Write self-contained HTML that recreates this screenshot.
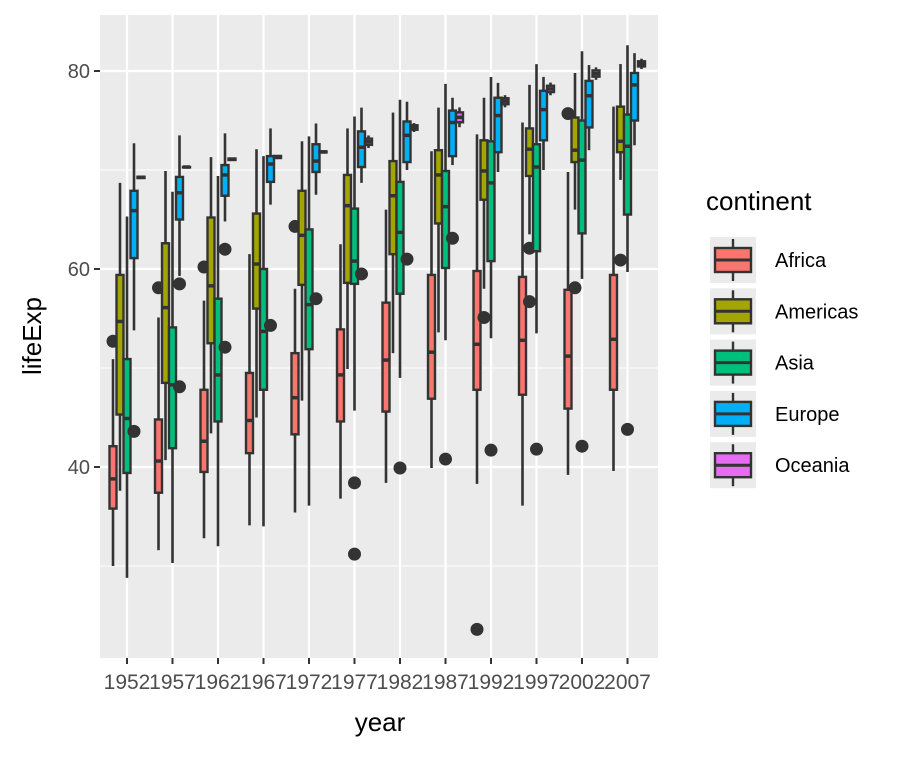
<!DOCTYPE html>
<html><head><meta charset="utf-8"><style>
body{margin:0;background:#fff}
svg{font-family:"Liberation Sans",sans-serif}
</style></head><body>
<svg id="chart" width="918" height="756">
<rect x="100" y="15" width="558" height="643" fill="#ebebeb"/>
<g id="grid"></g><g id="marks"></g><g id="axes"></g>
<text x="380" y="731" font-size="26" text-anchor="middle" fill="#000">year</text>
<text transform="translate(41,336) rotate(-90)" font-size="26" text-anchor="middle" fill="#000">lifeExp</text>
<text x="706" y="210" font-size="26" fill="#000">continent</text>
<g id="legend"></g>
</svg>
<script>
const years=[1952,1957,1962,1967,1972,1977,1982,1987,1992,1997,2002,2007];
const continents=["Africa","Americas","Asia","Europe","Oceania"];
const colors=["#F8766D","#A3A500","#00BF7D","#00B0F6","#E76BF3"];
const yTicks=[40,60,80];
const yMinor=[30,50,70];
// [lo,q1,med,q3,hi] per year
const africa=[[30.0,35.8,38.8,42.1,50.9],[31.6,37.4,40.6,44.8,55.1],[32.8,39.5,42.6,47.8,56.8],[34.1,41.4,44.7,49.5,61.5],[35.4,43.3,47.0,51.5,58.0],[36.8,44.6,49.3,53.9,62.5],[38.4,45.6,50.8,56.6,66.0],[39.9,46.9,51.6,59.4,71.9],[38.3,47.8,52.4,59.8,73.6],[36.1,47.3,52.8,59.2,74.8],[39.2,45.9,51.2,57.9,69.8],[39.6,47.8,52.9,59.4,76.4]];
const americas=[[37.6,45.3,54.7,59.4,68.7],[40.7,48.5,56.1,62.6,69.9],[43.4,52.5,58.3,65.2,71.3],[45.0,56.0,60.5,65.6,72.1],[46.7,58.4,63.4,67.9,72.9],[49.9,58.6,66.4,69.5,74.2],[51.5,61.5,67.4,70.9,75.8],[53.6,64.6,69.5,72.0,76.3],[58.0,67.0,69.9,73.0,77.3],[63.5,69.4,72.1,74.2,78.6],[66.0,70.8,72.0,75.3,79.8],[69.0,71.8,72.9,76.4,80.7]];
const asia=[[28.8,39.4,44.9,50.9,65.3],[30.3,41.9,48.3,54.1,67.8],[32.0,44.6,49.3,57.0,69.4],[34.0,47.8,53.7,60.0,71.4],[36.1,51.9,56.4,64.0,73.4],[45.7,58.5,60.8,66.1,75.4],[49.0,57.5,63.7,68.8,77.1],[52.8,60.1,66.3,69.9,78.7],[53.0,60.8,68.7,72.9,79.4],[53.5,61.8,70.3,72.6,80.7],[59.0,63.6,71.0,75.0,82.0],[59.7,65.5,72.4,75.6,82.6]];
const europe=[[53.8,61.1,65.9,67.9,72.7],[59.3,65.0,67.7,69.3,73.5],[64.8,67.4,69.5,70.5,73.7],[66.5,68.8,70.6,71.4,74.2],[67.5,69.8,70.9,72.6,74.7],[68.7,70.3,72.3,73.9,76.3],[70.0,70.8,73.5,74.9,76.9],[70.5,71.4,74.8,76.0,77.3],[69.8,71.8,75.5,77.3,78.8],[70.0,73.0,76.1,78.0,79.4],[72.0,74.3,77.5,79.0,80.6],[72.5,75.0,78.6,79.8,81.8]];
const oceania=[[69.12,69.19,69.26,69.32,69.39],[70.26,70.28,70.30,70.31,70.33],[70.93,71.01,71.09,71.16,71.24],[71.10,71.21,71.31,71.42,71.52],[71.72,71.77,71.83,71.88,71.93],[72.22,72.54,72.86,73.17,73.49],[73.84,74.07,74.29,74.52,74.74],[74.32,74.82,75.32,75.82,76.32],[76.33,76.64,76.95,77.25,77.56],[77.55,77.87,78.19,78.51,78.83],[79.11,79.43,79.74,80.06,80.37],[80.20,80.46,80.72,80.98,81.24]];
const africaOut=[[52.7],[58.1],[60.2],[],[64.3],[],[],[],[23.6],[],[75.7],[]];
const americasOut=[[],[],[],[],[],[],[],[],[55.1],[62.1,56.7],[58.1],[60.9]];
const asiaOut=[[],[],[],[],[],[38.4,31.2],[39.9],[40.8],[41.7],[41.8],[42.1],[43.8]];
const europeOut=[[43.6],[48.1,58.5],[52.1,62.0],[54.3],[57.0],[59.5],[61.0],[63.1],[],[],[],[]];
const oceaniaOut=[[],[],[],[],[],[],[],[],[],[],[],[]];
const stats=[africa,americas,asia,europe,oceania];
const outs=[africaOut,americasOut,asiaOut,europeOut,oceaniaOut];
const NS="http://www.w3.org/2000/svg";
const X=yr=>127+(yr-1952)*9.1;
const Y=v=>71+(80-v)*9.9;
function mk(tag,attrs,parent){const e=document.createElementNS(NS,tag);for(const k in attrs)e.setAttribute(k,attrs[k]);parent.appendChild(e);return e;}
const grid=document.getElementById('grid'),marks=document.getElementById('marks'),axes=document.getElementById('axes'),legend=document.getElementById('legend');
yMinor.forEach(v=>{const l=mk('line',{x1:100,x2:658,y1:Y(v),y2:Y(v),stroke:'#fff','stroke-width':1},grid);

});
yTicks.forEach(v=>{const l=mk('line',{x1:100,x2:658,y1:Y(v),y2:Y(v),stroke:'#fff','stroke-width':2.2},grid);


const t=mk('text',{x:90,y:Y(v)+7,'font-size':20,'text-anchor':'end',fill:'#4d4d4d'},axes);t.textContent=v;


const k=mk('line',{x1:94,x2:100,y1:Y(v),y2:Y(v),stroke:'#333','stroke-width':2},axes);

});
years.forEach(yr=>{const l=mk('line',{x1:X(yr),x2:X(yr),y1:15,y2:658,stroke:'#fff','stroke-width':2.2},grid);


const k=mk('line',{x1:X(yr),x2:X(yr),y1:658,y2:664,stroke:'#333','stroke-width':2},axes);


const t=mk('text',{x:X(yr),y:689,'font-size':21,'text-anchor':'middle',fill:'#4d4d4d'},axes);t.textContent=yr;

});
const W=7;
years.forEach((yr,i)=>{continents.forEach((c,j)=>{
 const s=stats[j][i];const cx=X(yr)+(j-2)*7;
 const g=mk('g',{},marks);
 
 
 mk('line',{x1:cx,x2:cx,y1:Y(s[4]),y2:Y(s[3]),stroke:'#333','stroke-width':2.6},g);
 mk('line',{x1:cx,x2:cx,y1:Y(s[1]),y2:Y(s[0]),stroke:'#333','stroke-width':2.6},g);
 mk('rect',{x:cx-W/2,y:Y(s[3]),width:W,height:Math.max(0.5,Y(s[1])-Y(s[3])),fill:colors[j],stroke:'#333','stroke-width':2.4},g);
 mk('line',{x1:cx-W/2,x2:cx+W/2,y1:Y(s[2]),y2:Y(s[2]),stroke:'#333','stroke-width':3.5},g);
 outs[j][i].forEach(v=>{const p=mk('circle',{cx:cx,cy:Y(v),r:6.5,fill:'#333'},marks);
 
 });
});});
continents.forEach((c,j)=>{const ky=237+j*51.3;
 const g=mk('g',{},legend);
 
 
 mk('rect',{x:710,y:ky,width:46,height:46,fill:'#ebebeb'},g);
 mk('line',{x1:733,x2:733,y1:ky+2,y2:ky+44,stroke:'#333','stroke-width':2.4},g);
 mk('rect',{x:715,y:ky+11,width:36,height:24,fill:colors[j],stroke:'#333','stroke-width':2.4},g);
 mk('line',{x1:715,x2:751,y1:ky+23,y2:ky+23,stroke:'#333','stroke-width':3},g);
 const t=mk('text',{x:775,y:ky+30,'font-size':20,fill:'#000'},g);t.textContent=c;});
</script>
</body></html>
